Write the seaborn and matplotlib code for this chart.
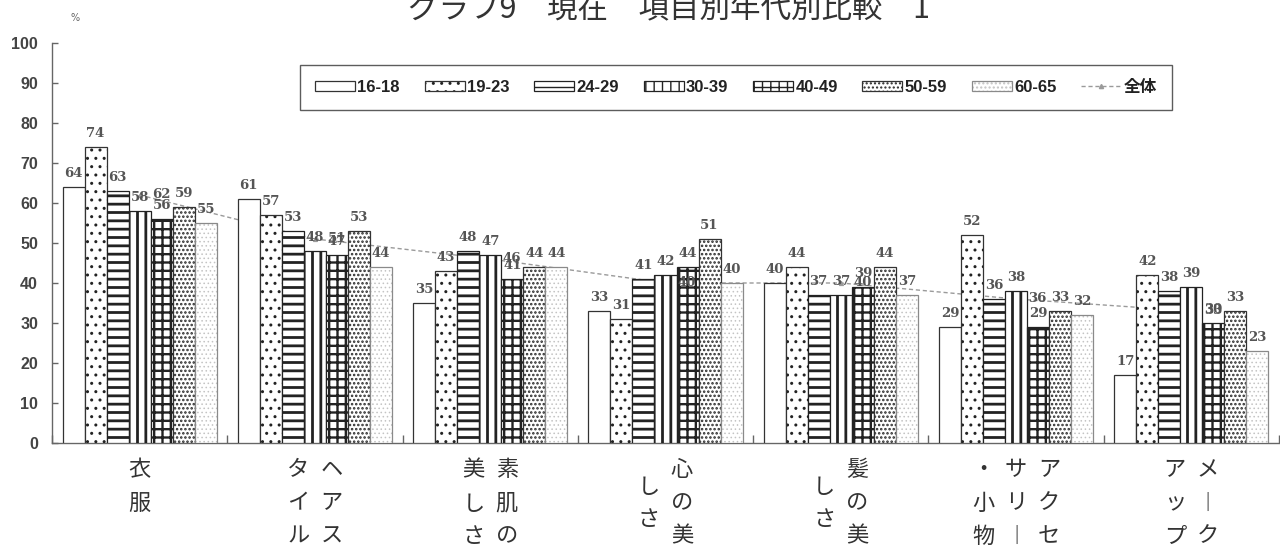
import numpy as np
import pandas as pd
import matplotlib
matplotlib.use("Agg")
import matplotlib.pyplot as plt
import matplotlib.patches as mpatches
import matplotlib.colors as mcolors
import matplotlib.transforms as mtransforms
from matplotlib.lines import Line2D
import seaborn as sns

# ---- data -------------------------------------------------------------
items = ["衣服", "ヘアスタイル", "素肌の美しさ", "心の美しさ",
         "髪の美しさ", "アクセサリー・小物", "メークアップ"]
ages = ["16-18", "19-23", "24-29", "30-39", "40-49", "50-59", "60-65"]
v_16_18 = [64, 61, 35, 33, 40, 29, 17]
v_19_23 = [74, 57, 43, 31, 44, 52, 42]
v_24_29 = [63, 53, 48, 41, 37, 36, 38]
v_30_39 = [58, 48, 47, 42, 37, 38, 39]
v_40_49 = [56, 47, 41, 44, 39, 29, 30]
v_50_59 = [59, 53, 44, 51, 44, 33, 33]
v_60_65 = [55, 44, 44, 40, 37, 32, 23]
overall = [62, 51, 46, 40, 40, 36, 33]
overall_name = "全体"
title = "グラフ9　現在　項目別年代別比較　1"
unit = "%"
yticks = list(range(0, 101, 10))

series = [v_16_18, v_19_23, v_24_29, v_30_39, v_40_49, v_50_59, v_60_65]
df = pd.DataFrame(
    [(it, ag, v) for ag, vals in zip(ages, series) for it, v in zip(items, vals)],
    columns=["item", "age", "value"],
)

# fill pattern per age band: (hatch, edge colour, hatch colour, hatch width)
styles = [
    ("", "#333333", "#333333", 1.0),
    ("..", "#333333", "#222222", 1.0),
    ("--", "#222222", "#222222", 2.0),
    ("||", "#222222", "#222222", 2.0),
    ("++", "#222222", "#222222", 1.7),
    ("....", "#333333", "#2a2a2a", 1.2),
    ("....", "#8a8a8a", "#c4c4c4", 0.6),
]

sns.set_theme(style="white")
plt.rcParams["font.family"] = ["Noto Sans CJK JP", "DejaVu Sans"]

W, H = 1280, 556
fig = plt.figure(figsize=(W / 100, H / 100), dpi=100)
ax = fig.add_axes([52 / W, 1 - 443 / H, (1279 - 52) / W, 400 / H])


def style_patch(p, hatch, ec, hc, hlw):
    p.set_facecolor("white")
    p.set_edgecolor(ec)
    p.set_hatch(hatch)
    if hasattr(p, "set_hatchcolor"):
        p.set_hatchcolor(hc)
    else:
        p._hatch_color = mcolors.to_rgba(hc)
    if hasattr(p, "set_hatch_linewidth"):
        p.set_hatch_linewidth(hlw)
    else:
        p._hatch_linewidth = hlw


sns.barplot(data=df, x="item", y="value", hue="age", order=items,
            hue_order=ages, palette=["white"] * 7, saturation=1,
            width=0.88, edgecolor="#222222", linewidth=0.9,
            errorbar=None, legend=False, ax=ax, zorder=3)

label_font = dict(fontsize=9.5, family="DejaVu Serif", fontweight="bold",
                  color="#555555")
for cont, st in zip(ax.containers, styles):
    for p in cont.patches:
        style_patch(p, *st)
    ax.bar_label(cont, padding=5, zorder=6, **label_font)

# overall line drawn behind the bars
sns.lineplot(x=np.arange(len(items)), y=overall, ax=ax, color="#9a9a9a",
             lw=1.0, linestyle=(0, (3, 2)), marker="^", markersize=3,
             markeredgecolor="#9a9a9a", legend=False, zorder=2)
for i, v in enumerate(overall):
    ax.annotate(str(v), (i, v), xytext=(9, 0), textcoords="offset points",
                ha="left", va="center", zorder=6, **label_font)

# axes
ax.set_xlim(-0.5, len(items) - 0.5)
ax.set_ylim(0, 100)
ax.set_xticks(np.arange(-0.5, len(items), 1.0))
ax.set_xticklabels([])
ax.set_yticks(yticks)
ax.set_yticklabels([str(t) for t in yticks], family="Liberation Sans",
                   fontweight="bold", fontsize=11.5, color="#444444")
ax.tick_params(axis="x", direction="in", length=6, width=1, color="#666666",
               bottom=True)
ax.tick_params(axis="y", direction="in", length=4, width=1, color="#666666",
               left=True, pad=10)
ax.set_xlabel("")
ax.set_ylabel("")
for side in ("top", "right"):
    ax.spines[side].set_visible(False)
for side in ("left", "bottom"):
    ax.spines[side].set_color("#666666")
    ax.spines[side].set_linewidth(1.0)

# category names set vertically, columns read right to left
vertical_forms = {"ー": "︱"}
trans = mtransforms.blended_transform_factory(ax.transData, fig.transFigure)
col_px, row_px, first_row = 33, 33, 470
unit_px = (1279 - 52) / len(items)
for i, name in enumerate(items):
    cols = [name[k:k + 3] for k in range(0, len(name), 3)]
    n = len(cols)
    for k, col in enumerate(cols):
        x = i + ((n - 1) / 2 - k) * col_px / unit_px
        shift = (len(cols[0]) - len(col)) / 2 * row_px
        for r, ch in enumerate(col):
            y = 1 - (first_row + shift + r * row_px) / H
            ax.text(x, y, vertical_forms.get(ch, ch), transform=trans,
                    ha="center", va="center", fontsize=16, color="#333333",
                    clip_on=False)

# legend
handles = []
for hatch, ec, hc, hlw in styles:
    hp = mpatches.Rectangle((0, 0), 1, 1, linewidth=0.9)
    style_patch(hp, hatch, ec, hc, hlw)
    handles.append(hp)
handles.append(Line2D([], [], color="#9a9a9a", lw=1.0, linestyle=(0, (3, 2)),
                      marker="^", markersize=3))
leg = fig.legend(handles, ages + [overall_name], loc="center",
                 bbox_to_anchor=(300 / W, 1 - 112 / H, 872 / W, 49 / H),
                 mode="expand", ncol=8, frameon=True, fancybox=False,
                 edgecolor="#333333", handlelength=2.4, handleheight=0.6,
                 handletextpad=0.15, borderpad=0.9, borderaxespad=0,
                 prop={"family": ["Liberation Sans", "Noto Sans CJK JP"],
                       "weight": "bold", "size": 12})
leg.get_frame().set_linewidth(1.0)
for t in leg.get_texts():
    t.set_color("#222222")

fig.text(408 / W, 1 - 9 / H, title, ha="left", va="center", fontsize=22,
         color="#333333")
fig.text(75 / W, 1 - 18 / H, unit, ha="center", va="center", fontsize=7,
         color="#666666", family="DejaVu Sans")

fig.savefig("out.png", dpi=100)
